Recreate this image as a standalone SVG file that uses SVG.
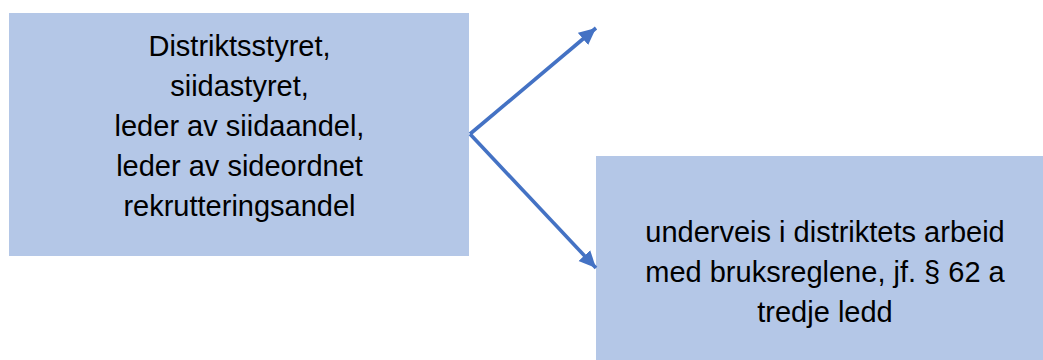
<svg xmlns="http://www.w3.org/2000/svg" width="1043" height="360" viewBox="0 0 1043 360">
  <style>
    .box { fill: #B4C7E7; }
    .lbl { font-family: "Liberation Sans", Arial, sans-serif; font-size: 29px; fill: #000; text-anchor: middle; }
    .conn { stroke: #4472C4; stroke-width: 3.6; fill: none; }
  </style>
  <defs>
    <marker id="arrow" markerUnits="userSpaceOnUse" markerWidth="20" markerHeight="18" refX="17" refY="8" orient="auto">
      <path d="M0,0 L17,8 L0,16 Z" fill="#4472C4"/>
    </marker>
  </defs>
  <rect width="1043" height="360" fill="#fff"/>
  <g id="node-source">
    <rect class="box" x="9" y="13" width="460" height="243"/>
    <text class="lbl" x="239.5" y="56">Distriktsstyret,</text>
    <text class="lbl" x="239.5" y="96">siidastyret,</text>
    <text class="lbl" x="239.5" y="136">leder av siidaandel,</text>
    <text class="lbl" x="239.5" y="176">leder av sideordnet</text>
    <text class="lbl" x="239.5" y="216">rekrutteringsandel</text>
  </g>
  <g id="node-target">
    <rect class="box" x="596" y="156" width="447" height="204"/>
    <text class="lbl" x="825" y="242">underveis i distriktets arbeid</text>
    <text class="lbl" x="825" y="282">med bruksreglene, jf. § 62 a</text>
    <text class="lbl" x="825" y="322">tredje ledd</text>
  </g>
  <g id="connectors">
    <line class="conn" x1="470" y1="134" x2="596" y2="28" marker-end="url(#arrow)"/>
    <line class="conn" x1="470" y1="134" x2="596" y2="268" marker-end="url(#arrow)"/>
  </g>
</svg>
